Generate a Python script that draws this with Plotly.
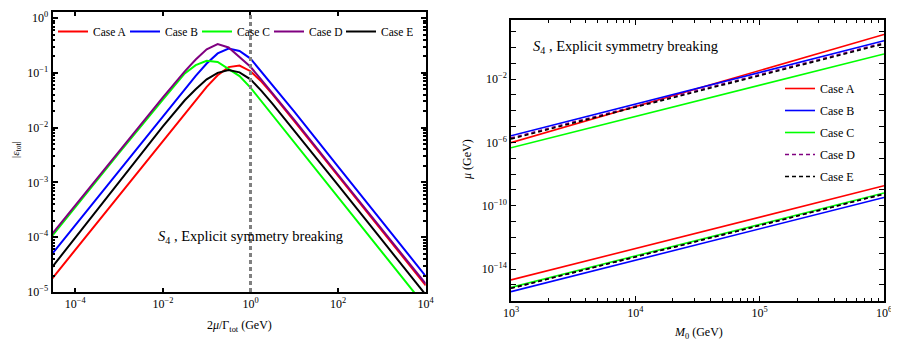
import plotly.graph_objects as go

cases = ["Case A", "Case B", "Case C", "Case D", "Case E"]
colors = ["#ff0000", "#0000ff", "#00ff00", "#800080", "#000000"]

# left panel: |eps_tot| vs 2 mu / Gamma_tot
ratio = [3.0e-5, 1e-3, 1e-2, 0.0316, 0.0562, 0.1, 0.178, 0.316, 0.562,
         1.0, 1.78, 3.16, 10, 100, 1000, 10000]
eps_A = [1.78e-5, 5.75e-4, 5.75e-3, 0.0182, 0.0320, 0.0553, 0.0902, 0.127, 0.136,
         0.107, 0.0693, 0.0408, 0.0132, 1.32e-3, 1.32e-4, 1.32e-5]
eps_B = [5.01e-5, 1.60e-3, 0.0160, 0.0502, 0.0877, 0.148, 0.226, 0.278, 0.250,
         0.182, 0.105, 0.0610, 0.0195, 1.95e-3, 1.95e-4, 1.95e-5]
eps_C = [1.07e-4, 3.47e-3, 0.0324, 0.0977, 0.138, 0.166, 0.158, 0.117, 0.0871,
         0.0537, 0.0302, 0.0166, 5.37e-3, 5.37e-4, 5.37e-5, 5.37e-6]
eps_D = [1.16e-4, 3.74e-3, 0.0356, 0.106, 0.175, 0.268, 0.334, 0.290, 0.195,
         0.129, 0.0741, 0.0427, 0.0138, 1.38e-3, 1.40e-4, 1.41e-5]
eps_E = [2.88e-5, 1.0e-3, 0.0105, 0.0316, 0.0501, 0.0759, 0.100, 0.112, 0.102,
         0.0759, 0.0468, 0.0275, 8.91e-3, 8.91e-4, 8.91e-5, 8.91e-6]

# right panel: mu vs M0 (two branches per case)
M0 = [1e3, 1e6]
mu_hi_A = [9.55e-7, 6.61]
mu_hi_B = [2.63e-6, 2.63]
mu_hi_C = [4.57e-7, 0.380]
mu_hi_D = [1.91e-6, 1.91]
mu_hi_E = [1.66e-6, 1.66]
mu_lo_A = [2.04e-15, 1.82e-9]
mu_lo_B = [3.72e-16, 3.31e-10]
mu_lo_C = [6.92e-16, 6.31e-10]
mu_lo_D = [6.03e-16, 5.50e-10]
mu_lo_E = [6.03e-16, 5.50e-10]

left_ticks = [1e-4, 1e-2, 1, 1e2, 1e4]
left_ticktext = ["10<sup>−4</sup>", "10<sup>−2</sup>", "10<sup>0</sup>", "10<sup>2</sup>", "10<sup>4</sup>"]
eps_ticks = [1e-5, 1e-4, 1e-3, 1e-2, 1e-1, 1]
eps_ticktext = ["10<sup>−5</sup>", "10<sup>−4</sup>", "10<sup>−3</sup>", "10<sup>−2</sup>", "10<sup>−1</sup>", "10<sup>0</sup>"]
m0_ticks = [1e3, 1e4, 1e5, 1e6]
m0_ticktext = ["10<sup>3</sup>", "10<sup>4</sup>", "10<sup>5</sup>", "10<sup>6</sup>"]
mu_ticks = [1e-14, 1e-10, 1e-6, 1e-2]
mu_ticktext = ["10<sup>−14</sup>", "10<sup>−10</sup>", "10<sup>−6</sup>", "10<sup>−2</sup>"]

FONT = "Liberation Serif, Times New Roman, Times, serif"
DASH = "4px,3px"

# the page body has an 8px margin, so the figure is drawn 8px in from the corner
OFF = 8
W, H = 899 - OFF, 346 - OFF


def px(x):
    return (x - OFF) / W


def py(y):
    return 1 - (y - OFF) / H


fig = go.Figure()

eps_all = [eps_A, eps_B, eps_C, eps_D, eps_E]
for name, col, ys in zip(cases, colors, eps_all):
    fig.add_trace(go.Scatter(x=ratio, y=ys, mode="lines", name=name,
                             line=dict(color=col, width=2),
                             xaxis="x", yaxis="y", legend="legend"))

hi_all = [mu_hi_A, mu_hi_B, mu_hi_C, mu_hi_D, mu_hi_E]
lo_all = [mu_lo_A, mu_lo_B, mu_lo_C, mu_lo_D, mu_lo_E]
for i, (name, col) in enumerate(zip(cases, colors)):
    dash = DASH if i >= 3 else "solid"
    fig.add_trace(go.Scatter(x=M0, y=hi_all[i], mode="lines", name=name,
                             line=dict(color=col, width=1.6, dash=dash),
                             xaxis="x2", yaxis="y2", legend="legend2",
                             legendgroup=name))
    fig.add_trace(go.Scatter(x=M0, y=lo_all[i], mode="lines", name=name,
                             line=dict(color=col, width=1.6, dash=dash),
                             xaxis="x2", yaxis="y2", showlegend=False,
                             legendgroup=name))

fig.add_vline(x=1, line=dict(color="#808080", width=3, dash=DASH), xref="x", yref="y")

axis_common = dict(type="log", showline=True, linecolor="black", mirror="ticks",
                   ticks="inside", tickcolor="black", showgrid=False, zeroline=False,
                   automargin=False,
                   tickfont=dict(family=FONT, size=12, color="black"))


def minor_vals(lo, hi, mults):
    return [m * 10.0 ** k for k in range(lo, hi) for m in mults]


def label(text, x, y, angle=0, size=12, anchor="center"):
    return dict(text=text, xref="paper", yref="paper", x=px(x), y=py(y), xanchor=anchor,
                yanchor="middle", showarrow=False, textangle=angle,
                font=dict(family=FONT, size=size, color="black"))


fig.update_layout(
    width=W, height=H,
    margin=dict(l=0, r=0, t=0, b=0),
    paper_bgcolor="white", plot_bgcolor="white",
    font=dict(family=FONT, size=12, color="black"),
    xaxis=dict(axis_common, domain=[px(52.5), px(425.7)], range=[-4.52, 4.0], anchor="y",
               linewidth=2, tickwidth=1.5, ticklen=4,
               tickmode="array", tickvals=left_ticks, ticktext=left_ticktext),
    yaxis=dict(axis_common, domain=[py(292), py(12)], range=[-5, 0.11], anchor="x",
               linewidth=2, tickwidth=1.5, ticklen=5,
               tickmode="array", tickvals=eps_ticks, ticktext=eps_ticktext,
               minor=dict(tickmode="array", tickvals=minor_vals(-5, 0, range(2, 10)),
                          ticklen=2.5, tickcolor="black", ticks="inside")),
    xaxis2=dict(axis_common, domain=[px(511), px(884)], range=[3, 6], anchor="y2",
                linewidth=1.5, tickwidth=1.2, ticklen=5,
                tickmode="array", tickvals=m0_ticks, ticktext=m0_ticktext,
                minor=dict(tickmode="array", tickvals=minor_vals(3, 6, range(2, 10)),
                           ticklen=3, tickcolor="black", ticks="inside")),
    yaxis2=dict(axis_common, domain=[py(301), py(20)], range=[-16.02, 1.73], anchor="x2",
                linewidth=1.5, tickwidth=1.2, ticklen=5,
                tickmode="array", tickvals=mu_ticks, ticktext=mu_ticktext,
                minor=dict(tickmode="array", tickvals=minor_vals(-16, 2, [1]),
                           ticklen=5, tickcolor="black", ticks="inside")),
    legend=dict(orientation="h", traceorder="normal", x=px(53), y=py(17),
                xanchor="left", yanchor="top", entrywidth=27, entrywidthmode="pixels",
                bgcolor="rgba(0,0,0,0)", itemwidth=30,
                font=dict(family=FONT, size=11.5)),
    legend2=dict(orientation="v", traceorder="grouped", x=px(780), y=py(74),
                 xanchor="left", yanchor="top",
                 bgcolor="rgba(0,0,0,0)", itemwidth=30, tracegroupgap=3,
                 font=dict(family=FONT, size=12)),
    annotations=[
        dict(text="<i>S</i><sub>4</sub> , Explicit symmetry breaking", xref="paper", yref="paper",
             x=px(250), y=py(237), xanchor="center", yanchor="middle", showarrow=False,
             font=dict(family=FONT, size=14.5)),
        dict(text="<i>S</i><sub>4</sub> , Explicit symmetry breaking", xref="paper", yref="paper",
             x=px(531), y=py(47), xanchor="left", yanchor="middle", showarrow=False,
             font=dict(family=FONT, size=14.5)),
        label("2<i>μ</i>/Γ<sub>tot</sub> (GeV)", 239, 326),
        label("|<i>ε</i><sub>tot</sub>|", 16, 150, angle=-90, size=11),
        label("<i>M</i><sub>0</sub> (GeV)", 698, 333),
        label("<i>μ</i> (GeV)", 467, 160, angle=-90),
    ],
)

fig.write_html("out.html")
